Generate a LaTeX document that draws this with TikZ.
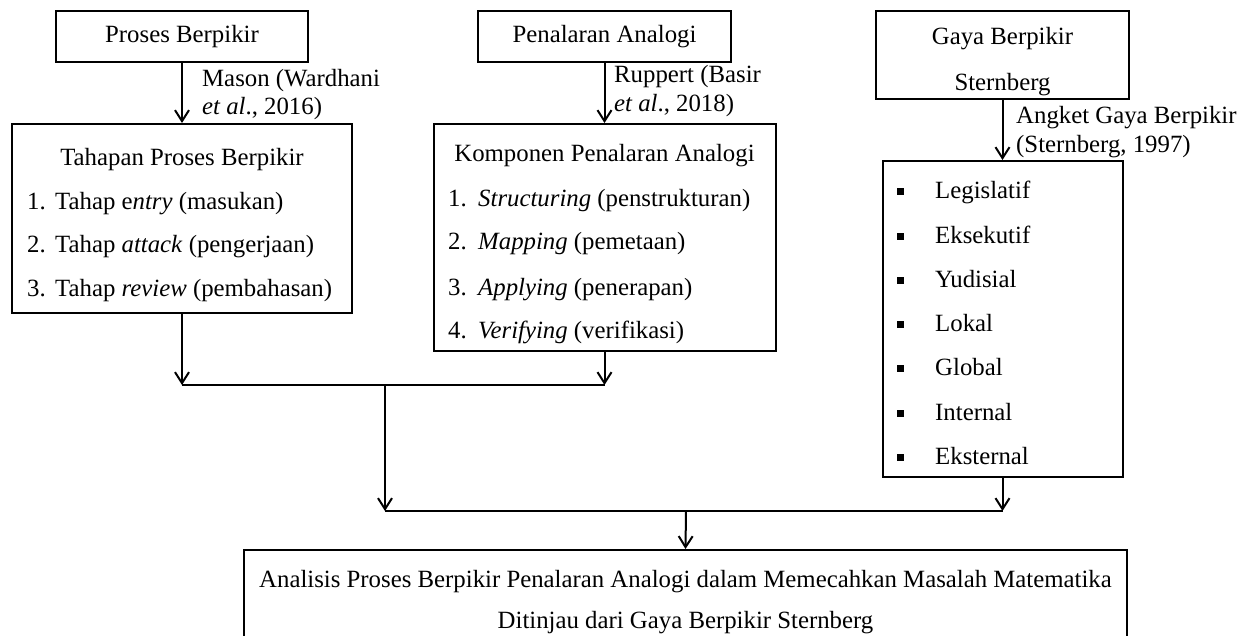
\documentclass[tikz,border=0pt]{standalone}
\usepackage{fontspec}
\setmainfont{Liberation Serif}
\usetikzlibrary{arrows.meta}

\begin{document}
\begin{tikzpicture}[x=1pt,y=-1pt,font=\fontsize{24.8}{28}\selectfont,
box/.style={draw, line width=2pt, inner sep=0pt},
txt/.style={anchor=base west, inner sep=0pt},
ctr/.style={anchor=base, inner sep=0pt},
arr/.style={line width=2pt, -{Straight Barb[length=11pt,width=14pt,line width=2pt]}},
lin/.style={line width=2pt},
bul/.style={fill, inner sep=0pt, minimum size=7pt}]
\useasboundingbox (0,0) rectangle (1250,636);

\node[box, minimum width=252, minimum height=51] (proses) at (182,36.5) {};
\node[ctr] (prosesT) at (182,43) {Proses Berpikir};
\node[box, minimum width=340, minimum height=189] (tahapan) at (182,218.5) {};
\node[ctr] (tahapanT) at (182,166) {Tahapan Proses Berpikir};
\node[txt] (n1) at (27,210) {1.};
\node[txt] (t1) at (55,210) {Tahap e\textit{ntry} (masukan)};
\node[txt] (n2) at (27,253) {2.};
\node[txt] (t2) at (55,253) {Tahap \textit{attack} (pengerjaan)};
\node[txt] (n3) at (27,297) {3.};
\node[txt] (t3) at (55,297) {Tahap \textit{review} (pembahasan)};
\node[txt] (mason1) at (202,87) {Mason (Wardhani};
\node[txt] (mason2) at (202,115) {\textit{et al}., 2016)};

\node[box, minimum width=253, minimum height=51] (penalaran) at (604.5,36.5) {};
\node[ctr] (penalaranT) at (604.5,43) {Penalaran Analogi};
\node[box, minimum width=342, minimum height=227] (komponen) at (604.5,237.5) {};
\node[ctr] (komponenT) at (604.5,162) {Komponen Penalaran Analogi};
\node[txt] (m1) at (448,207) {1.};
\node[txt] (k1) at (478,207) {\textit{Structuring} (penstrukturan)};
\node[txt] (m2) at (448,250) {2.};
\node[txt] (k2) at (478,250) {\textit{Mapping} (pemetaan)};
\node[txt] (m3) at (448,295) {3.};
\node[txt] (k3) at (478,295) {\textit{Applying} (penerapan)};
\node[txt] (m4) at (448,338) {4.};
\node[txt] (k4) at (478,338) {\textit{Verifying} (verifikasi)};
\node[txt] (ruppert1) at (614,83) {Ruppert (Basir};
\node[txt] (ruppert2) at (614,112) {\textit{et al}., 2018)};

\node[box, minimum width=253, minimum height=88] (gaya) at (1002.5,55) {};
\node[ctr] (gayaT1) at (1002.5,45) {Gaya Berpikir};
\node[ctr] (gayaT2) at (1002.5,91) {Sternberg};
\node[box, minimum width=240, minimum height=316] (jenis) at (1002.5,319) {};
\node[txt] (angket1) at (1016,124) {Angket Gaya Berpikir};
\node[txt] (angket2) at (1016,153) {(Sternberg, 1997)};
\foreach \t [count=\i] in {Legislatif,Eksekutif,Yudisial,Lokal,Global,Internal,Eksternal}{
  \node[bul] (b\i) at (900.5,{199+44.2*(\i-1)-7}) {};
  \node[txt] (g\i) at (935,{199+44.2*(\i-1)}) {\t};
}

\node[box, minimum width=883, minimum height=92] (analisis) at (685.5,596) {};
\node[ctr] (analisisT1) at (685.5,587) {Analisis Proses Berpikir Penalaran Analogi dalam Memecahkan Masalah Matematika};
\node[ctr] (analisisT2) at (685.5,628) {Ditinjau dari Gaya Berpikir Sternberg};

\coordinate (jA) at (385,385);
\coordinate (jB) at (686,511);

\draw[arr] (proses) -- (tahapan);
\draw[arr] (penalaran) -- (komponen);
\draw[arr] (gaya) -- (jenis);
\draw[arr] (tahapan.south) -- (tahapan.south |- jA);
\draw[arr] (komponen.south) -- (komponen.south |- jA);
\draw[lin] (tahapan.south |- jA) -- (komponen.south |- jA);
\draw[arr] (jA) -- (jA |- jB);
\draw[arr] (jenis.south) -- (jenis.south |- jB);
\draw[lin] (jA |- jB) -- (jenis.south |- jB);
\draw[arr] (jB) -- (analisis.north);
\end{tikzpicture}
\end{document}
